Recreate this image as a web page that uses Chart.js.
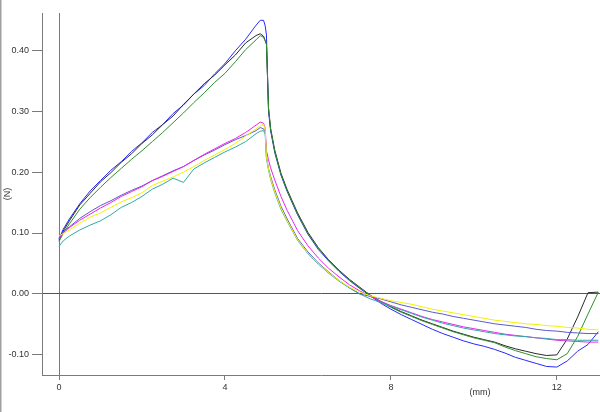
<!DOCTYPE html>
<html>
<head>
<meta charset="utf-8">
<script src="https://cdn.jsdelivr.net/npm/chart.js@4.4.1/dist/chart.umd.min.js"></script>
<style>
  html, body { margin: 0; padding: 0; background: #fff; }
  #wrap { width: 600px; height: 412px; position: relative; }
</style>
</head>
<body>
<div id="wrap"><canvas id="forceChart" width="600" height="412"></canvas></div>
<script>
// Displacement (mm) shared by every run
const xs = [0, 0.1, 0.25, 0.5, 0.75, 1, 1.25, 1.5, 1.75, 2, 2.25, 2.5, 2.75, 3, 3.25, 3.5, 3.75, 4, 4.25, 4.5, 4.75,
    4.85, 4.93, 4.97, 5, 5.05, 5.1, 5.2, 5.35,
    5.5, 5.75, 6, 6.25, 6.5, 6.75, 7, 7.25, 7.5, 7.75, 8, 8.25, 8.5, 8.75, 9, 9.25, 9.5, 9.75, 10,
    10.25, 10.5, 10.75, 11, 11.25, 11.5, 11.75, 12, 12.25, 12.5, 12.75, 13];

// Force (N) per run
const blueRun = [0.090, 0.106, 0.123, 0.148, 0.169, 0.186, 0.203, 0.217, 0.234, 0.248, 0.265, 0.278, 0.296, 0.310, 0.328, 0.342, 0.361, 0.378, 0.399, 0.418, 0.441,
    0.449, 0.449, 0.440, 0.425, 0.300, 0.268, 0.232, 0.195,
    0.168, 0.130, 0.098, 0.073, 0.054, 0.037, 0.022, 0.009, -0.003, -0.015, -0.025, -0.034, -0.042, -0.050, -0.058, -0.065, -0.071, -0.077, -0.082,
    -0.086, -0.091, -0.097, -0.104, -0.109, -0.114, -0.119, -0.120, -0.110, -0.094, -0.083, -0.062];
const blackRun = [0.088, 0.103, 0.120, 0.146, 0.165, 0.184, 0.199, 0.216, 0.230, 0.247, 0.261, 0.278, 0.292, 0.311, 0.328, 0.345, 0.359, 0.376, 0.392, 0.412, 0.424,
    0.427, 0.423, 0.416, 0.410, 0.305, 0.272, 0.236, 0.198,
    0.171, 0.133, 0.101, 0.076, 0.056, 0.039, 0.024, 0.011, -0.002, -0.012, -0.021, -0.029, -0.036, -0.043, -0.049, -0.055, -0.061, -0.066, -0.071,
    -0.075, -0.079, -0.085, -0.090, -0.094, -0.098, -0.101, -0.100, -0.074, -0.038, 0.002, 0.003];
const greenRun = [0.086, 0.099, 0.115, 0.139, 0.158, 0.175, 0.191, 0.206, 0.221, 0.235, 0.250, 0.265, 0.281, 0.297, 0.314, 0.330, 0.347, 0.362, 0.381, 0.401, 0.417,
    0.424, 0.421, 0.415, 0.410, 0.305, 0.270, 0.234, 0.196,
    0.169, 0.131, 0.099, 0.075, 0.055, 0.038, 0.023, 0.010, -0.002, -0.013, -0.022, -0.030, -0.037, -0.044, -0.050, -0.056, -0.062, -0.067, -0.072,
    -0.076, -0.080, -0.087, -0.093, -0.098, -0.103, -0.106, -0.108, -0.098, -0.070, -0.033, 0.003];
const slateRun = [0.092, 0.102, 0.110, 0.124, 0.135, 0.145, 0.153, 0.162, 0.170, 0.177, 0.186, 0.194, 0.202, 0.209, 0.219, 0.228, 0.236, 0.245, 0.253, 0.260, 0.268,
    0.273, 0.271, 0.266, 0.225, 0.206, 0.193, 0.171, 0.144,
    0.123, 0.091, 0.069, 0.051, 0.036, 0.022, 0.010, 0.000, -0.004, -0.008, -0.013, -0.018, -0.022, -0.026, -0.030, -0.033, -0.037, -0.040, -0.043,
    -0.046, -0.049, -0.051, -0.053, -0.055, -0.058, -0.060, -0.061, -0.063, -0.064, -0.065, -0.065];
const yellowRun = [0.095, 0.099, 0.105, 0.116, 0.126, 0.133, 0.142, 0.151, 0.158, 0.166, 0.178, 0.185, 0.192, 0.200, 0.209, 0.219, 0.228, 0.237, 0.247, 0.259, 0.271,
    0.276, 0.278, 0.270, 0.225, 0.205, 0.190, 0.168, 0.141,
    0.120, 0.089, 0.067, 0.050, 0.035, 0.022, 0.011, 0.003, -0.003, -0.007, -0.011, -0.014, -0.017, -0.021, -0.025, -0.028, -0.031, -0.034, -0.037,
    -0.040, -0.043, -0.045, -0.047, -0.049, -0.050, -0.052, -0.053, -0.055, -0.056, -0.058, -0.059];
const magentaRun = [0.090, 0.100, 0.109, 0.121, 0.131, 0.141, 0.150, 0.160, 0.168, 0.176, 0.186, 0.193, 0.201, 0.209, 0.219, 0.229, 0.238, 0.247, 0.255, 0.265, 0.277,
    0.282, 0.280, 0.272, 0.235, 0.220, 0.207, 0.187, 0.160,
    0.137, 0.104, 0.079, 0.059, 0.042, 0.028, 0.015, 0.005, -0.004, -0.012, -0.019, -0.025, -0.031, -0.037, -0.042, -0.046, -0.050, -0.054, -0.057,
    -0.060, -0.063, -0.066, -0.068, -0.070, -0.072, -0.074, -0.076, -0.077, -0.078, -0.079, -0.079];
const tealRun = [0.078, 0.087, 0.095, 0.105, 0.113, 0.120, 0.130, 0.142, 0.150, 0.160, 0.172, 0.180, 0.190, 0.183, 0.205, 0.215, 0.224, 0.233, 0.241, 0.250, 0.263,
    0.267, 0.268, 0.262, 0.222, 0.203, 0.188, 0.166, 0.139,
    0.119, 0.088, 0.066, 0.049, 0.034, 0.021, 0.010, 0.000, -0.008, -0.014, -0.020, -0.026, -0.032, -0.038, -0.043, -0.048, -0.052, -0.056, -0.059,
    -0.062, -0.065, -0.067, -0.069, -0.070, -0.072, -0.073, -0.075, -0.075, -0.076, -0.076, -0.076];

const xTicks = [0, 4, 8, 12];
const yTicks = [-0.1, 0, 0.1, 0.2, 0.3, 0.4];

const runs = [
    { data: yellowRun, color: '#f2f200' },
    { data: tealRun, color: '#30a8a8' },
    { data: magentaRun, color: '#f020f0' },
    { data: slateRun, color: '#5a5ad0' },
    { data: greenRun, color: '#2e8f2e' },
    { data: blackRun, color: '#2a2a2a' },
    { data: blueRun, color: '#2828ff' }
];

const axisGray = '#7a7a7a';
const labelFont = { family: 'Liberation Sans', size: 9 };

const axisTitles = {
    id: 'axisTitles',
    beforeDraw(chart) {
        const c = chart.ctx;
        c.save();
        c.fillStyle = '#a0a0a0';
        c.fillRect(0, 0, 1.5, chart.height);
        c.restore();
    },
    afterDraw(chart) {
        const c = chart.ctx;
        c.save();
        c.fillStyle = '#333';
        c.font = '9px "Liberation Sans"';
        c.textAlign = 'center';
        c.textBaseline = 'middle';
        c.fillText('(mm)', 480, 393);
        c.translate(8, 194);
        c.rotate(-Math.PI / 2);
        c.fillText('(N)', 0, 0);
        c.restore();
    }
};

new Chart(document.getElementById('forceChart').getContext('2d'), {
    type: 'line',
    data: {
        datasets: runs.map(r => ({
            data: xs.map((x, i) => ({ x: x, y: r.data[i] })),
            borderColor: r.color,
            borderWidth: 1,
            pointRadius: 0,
            tension: 0,
            fill: false
        }))
    },
    options: {
        responsive: false,
        animation: false,
        layout: { padding: { top: 13, right: 0, left: 0, bottom: 0 } },
        plugins: { legend: { display: false }, tooltip: { enabled: false } },
        scales: {
            x: {
                type: 'linear',
                min: -0.41,
                max: 13.04,
                afterBuildTicks: s => { s.ticks = xTicks.map(v => ({ value: v })); },
                afterFit: s => { s.height = 37; },
                border: { color: axisGray, width: 1 },
                grid: {
                    color: ctx => (ctx.tick && ctx.tick.value === 0) ? axisGray : 'transparent',
                    tickColor: axisGray,
                    tickLength: 5,
                    drawOnChartArea: true
                },
                ticks: { font: labelFont, color: '#333', padding: 2, maxRotation: 0, callback: v => String(v) }
            },
            y: {
                min: -0.133,
                max: 0.461,
                afterBuildTicks: s => { s.ticks = yTicks.map(v => ({ value: v })); },
                afterFit: s => { s.width = 42; },
                border: { color: axisGray, width: 1 },
                grid: {
                    color: ctx => (ctx.tick && ctx.tick.value === 0) ? '#555' : 'transparent',
                    tickColor: axisGray,
                    tickLength: 10,
                    drawOnChartArea: true
                },
                ticks: { font: labelFont, color: '#333', padding: 3, callback: v => v.toFixed(2) }
            }
        }
    },
    plugins: [axisTitles]
});
</script>
</body>
</html>
